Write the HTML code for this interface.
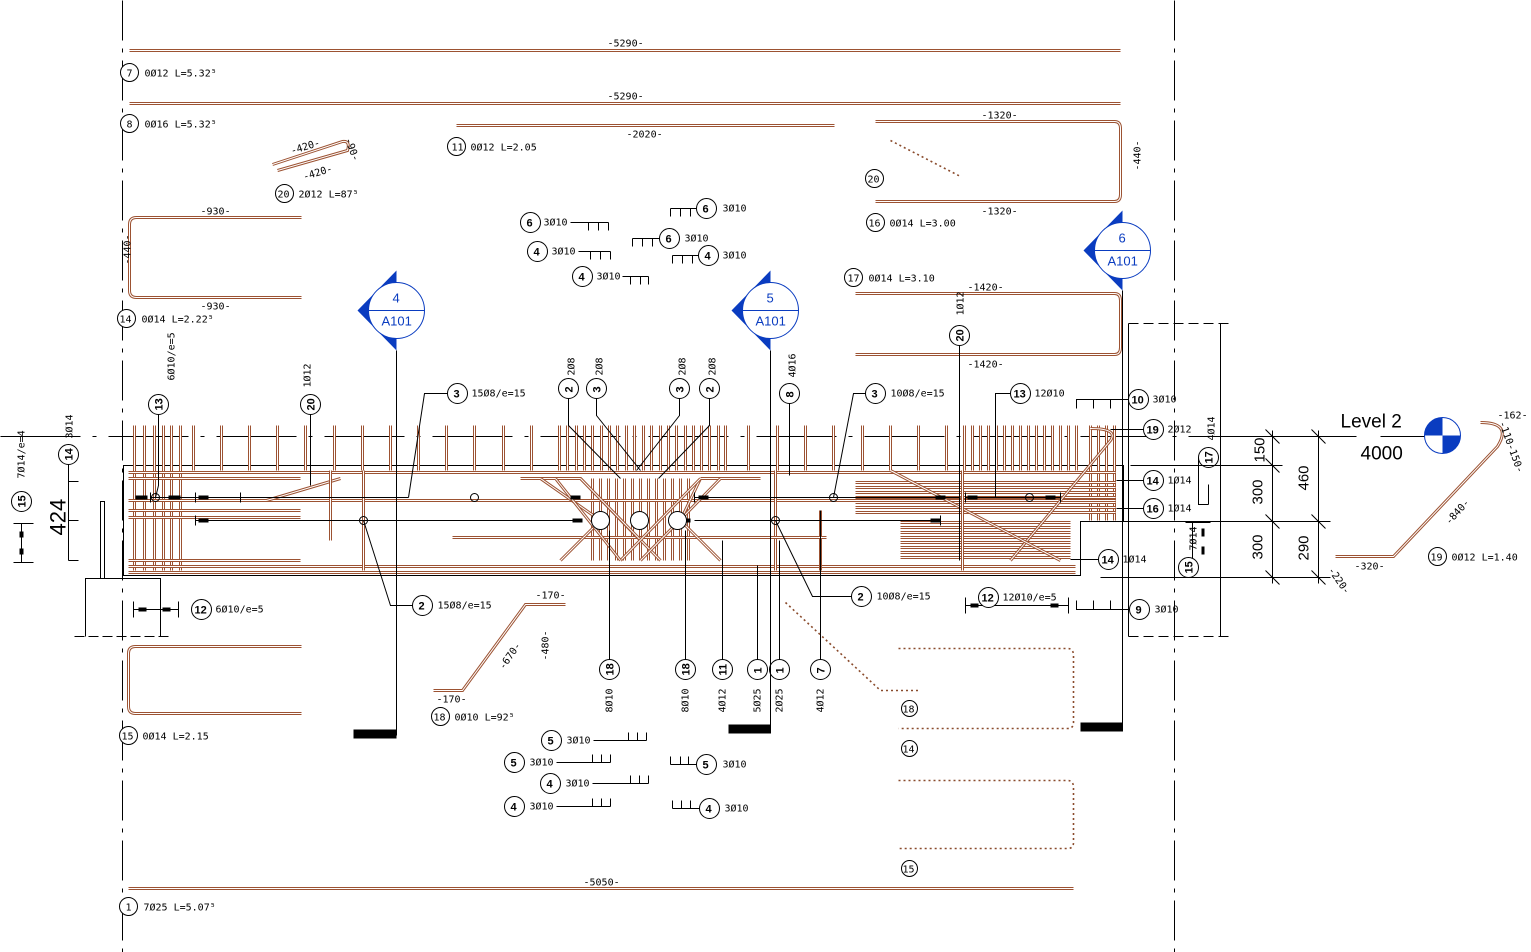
<!DOCTYPE html>
<html><head><meta charset="utf-8">
<style>
html,body{margin:0;padding:0;background:#fff;}
svg{display:block;}
text{font-family:"DejaVu Sans Mono","Liberation Mono",monospace;font-size:10px;fill:#000;}
.lb{font-family:"Liberation Sans",sans-serif;}
.b{fill:none;stroke:#9c5232;stroke-width:3;}
.bi{fill:none;stroke:#fff;stroke-width:1;}
.d{fill:none;stroke:#8a4b2c;stroke-width:1.6;stroke-dasharray:2 3;}
.k{fill:none;stroke:#000;stroke-width:1;}
.c{fill:#fff;stroke:#000;stroke-width:1;}
.bl{fill:#0a3cc0;}
.cb{font-family:"Liberation Sans",sans-serif;font-weight:bold;font-size:11px;}
</style></head>
<body>
<svg id="s" width="1531" height="952" viewBox="0 0 1531 952" xmlns="http://www.w3.org/2000/svg">
<g transform="translate(0.5 0.5)">
<line x1="122" y1="0" x2="122" y2="952" stroke="#000" stroke-dasharray="40 8 4 8"/>
<line x1="1174" y1="0" x2="1174" y2="952" stroke="#000" stroke-dasharray="40 8 4 8"/>
<line x1="0" y1="436" x2="1230" y2="436" stroke="#000" stroke-dasharray="80 12 4 12"/>

<path class="b" d="M129 50H1120"/><text x="607" y="46">-5290-</text>
<circle class="c" cx="129" cy="72" r="9"/><text x="126" y="76">7</text><text x="144" y="76">0Ø12 L=5.32⁵</text>
<path class="b" d="M129 103H1120"/><text x="607" y="99">-5290-</text>
<circle class="c" cx="129" cy="123" r="9"/><text x="126" y="127">8</text><text x="144" y="127">0Ø16 L=5.32⁵</text>
<path class="b" d="M456 125H834"/><text x="626" y="137">-2020-</text>
<circle class="c" cx="456" cy="146" r="9"/><text x="451" y="150">11</text><text x="470" y="150">0Ø12 L=2.05</text>
<path class="b" d="M272 164L342 141Q350 140 347 150L277 170"/>
<text x="290" y="151" transform="rotate(-17 300 148)">-420-</text>
<text x="302" y="176" transform="rotate(-17 315 172)">-420-</text>
<text x="345" y="146" transform="rotate(70 350 142)">-90-</text>
<circle class="c" cx="284" cy="193" r="9"/><text x="277" y="197">20</text><text x="298" y="197">2Ø12 L=87⁵</text>
<path class="b" d="M301 217H136Q129 217 129 224V290Q129 297 136 297H301"/>
<text x="200" y="214">-930-</text><text x="200" y="309">-930-</text>
<text x="112" y="270" transform="rotate(-90 118 258)">-440-</text>
<circle class="c" cx="126" cy="318" r="9"/><text x="119" y="322">14</text><text x="141" y="322">0Ø14 L=2.22⁵</text>

<path class="b" d="M875 121H1114Q1120 121 1120 128V194Q1120 201 1114 201H875"/>
<text x="981" y="118">-1320-</text><text x="981" y="214">-1320-</text>
<text x="1122" y="172" transform="rotate(-90 1130 162)">-440-</text>
<path class="d" d="M890 140L960 176"/>
<circle class="c" cx="874" cy="178" r="9"/><text x="867" y="182">20</text>
<circle class="c" cx="875" cy="222" r="9"/><text x="868" y="226">16</text><text x="889" y="226">0Ø14 L=3.00</text>
<path class="b" d="M855 293H1114Q1120 293 1120 300V347Q1120 354 1114 354H855"/>
<text x="967" y="290">-1420-</text><text x="967" y="367">-1420-</text>
<circle class="c" cx="853" cy="277" r="9"/><text x="847" y="281">17</text><text x="868" y="281">0Ø14 L=3.10</text>

<g>
<circle class="c" cx="530" cy="222" r="10"/><text class="cb" x="526" y="226">6</text><text x="543" y="225">3Ø10</text><path class="k" d="M570 222H608M588 222V230M598 222V230M608 222V230"/>
<circle class="c" cx="537" cy="251" r="10"/><text class="cb" x="533" y="255">4</text><text x="551" y="254">3Ø10</text><path class="k" d="M578 251H610M590 251V259M600 251V259M610 251V259"/>
<circle class="c" cx="582" cy="276" r="10"/><text class="cb" x="578" y="280">4</text><text x="596" y="279">3Ø10</text><path class="k" d="M622 276H648M630 276V284M640 276V284M648 276V284"/>
<circle class="c" cx="706" cy="208" r="10"/><text class="cb" x="702" y="212">6</text><text x="722" y="211">3Ø10</text><path class="k" d="M670 208H696M670 208V216M680 208V216M690 208V216"/>
<circle class="c" cx="669" cy="238" r="10"/><text class="cb" x="665" y="242">6</text><text x="684" y="241">3Ø10</text><path class="k" d="M632 238H659M632 238V246M642 238V246M652 238V246"/>
<circle class="c" cx="708" cy="255" r="10"/><text class="cb" x="704" y="259">4</text><text x="722" y="258">3Ø10</text><path class="k" d="M672 255H698M672 255V263M682 255V263M692 255V263"/>

<circle class="c" cx="551" cy="740" r="10"/><text class="cb" x="547" y="744">5</text><text x="566" y="743">3Ø10</text><path class="k" d="M593 740H646M628 740V732M637 740V732M646 740V732"/>
<circle class="c" cx="514" cy="762" r="10"/><text class="cb" x="510" y="766">5</text><text x="529" y="765">3Ø10</text><path class="k" d="M556 762H610M592 762V754M601 762V754M610 762V754"/>
<circle class="c" cx="550" cy="783" r="10"/><text class="cb" x="546" y="787">4</text><text x="565" y="786">3Ø10</text><path class="k" d="M592 783H648M630 783V775M639 783V775M648 783V775"/>
<circle class="c" cx="514" cy="806" r="10"/><text class="cb" x="510" y="810">4</text><text x="529" y="809">3Ø10</text><path class="k" d="M556 806H610M592 806V798M601 806V798M610 806V798"/>
<circle class="c" cx="706" cy="764" r="10"/><text class="cb" x="702" y="768">5</text><text x="722" y="767">3Ø10</text><path class="k" d="M670 764H696M670 764V756M680 764V756M688 764V756"/>
<circle class="c" cx="709" cy="808" r="10"/><text class="cb" x="705" y="812">4</text><text x="724" y="811">3Ø10</text><path class="k" d="M672 808H699M672 808V800M681 808V800M690 808V800"/>
</g>

<path class="k" d="M123 465H1123V521H1080V575H123Z"/>
<g id="beam"></g>

<path class="k" d="M150 497H240M150 492V502M240 492V502"/>
<path class="k" d="M195 497H408M195 492V502"/>
<path class="k" d="M195 520H580M195 515V525"/>
<path class="k" d="M694 497H960M694 492V502"/>
<path class="k" d="M694 520H940M940 515V525"/>
<path class="k" d="M965 497H1060M965 492V502M1060 492V502"/>
<rect x="135" y="495" width="12" height="4"/><rect x="168" y="495" width="12" height="4"/><rect x="198" y="495" width="10" height="4"/>
<rect x="198" y="518" width="10" height="4"/><rect x="570" y="495" width="10" height="4"/><rect x="572" y="518" width="10" height="4"/>
<rect x="698" y="495" width="10" height="4"/><rect x="680" y="518" width="10" height="4"/><rect x="935" y="495" width="10" height="4"/><rect x="930" y="518" width="10" height="4"/>
<rect x="967" y="495" width="10" height="4"/><rect x="1045" y="495" width="10" height="4"/>
<circle class="k" cx="155" cy="497" r="4"/><circle class="k" cx="474" cy="497" r="4"/><circle class="k" cx="363" cy="520" r="4"/>
<circle class="k" cx="833" cy="497" r="4"/><circle class="k" cx="775" cy="520" r="4"/><circle class="k" cx="1029" cy="497" r="4"/>
<circle class="c" cx="600" cy="520" r="9"/><circle class="c" cx="639" cy="520" r="9"/><circle class="c" cx="677" cy="520" r="9"/>

<path class="k" d="M158 414V485L155 497"/>
<circle class="c" cx="158" cy="404" r="10"/><text class="cb" x="152" y="408" transform="rotate(-90 158 404)">13</text><text x="150" y="388" transform="rotate(-90 158 372)">6Ø10/e=5</text>
<path class="k" d="M310 414V485"/>
<circle class="c" cx="310" cy="404" r="10"/><text class="cb" x="304" y="408" transform="rotate(-90 310 404)">20</text><text x="301" y="378" transform="rotate(-90 310 378)">1Ø12</text>
<path class="k" d="M447 393H424L408 497"/>
<circle class="c" cx="457" cy="393" r="10"/><text class="cb" x="453" y="397">3</text><text x="471" y="396">15Ø8/e=15</text>
<path class="k" d="M363 520L390 605H412"/>
<circle class="c" cx="422" cy="605" r="10"/><text class="cb" x="418" y="609">2</text><text x="437" y="608">15Ø8/e=15</text>
<path class="k" d="M568 398V425L620 478M596 398V415L640 470M679 398V415L636 470M709 398V425L658 478"/>
<circle class="c" cx="568" cy="388" r="10"/><circle class="c" cx="596" cy="388" r="10"/><circle class="c" cx="679" cy="388" r="10"/><circle class="c" cx="709" cy="388" r="10"/>
<text class="cb" x="564" y="392" transform="rotate(-90 568 388)">2</text><text class="cb" x="592" y="392" transform="rotate(-90 596 388)">3</text>
<text class="cb" x="675" y="392" transform="rotate(-90 679 388)">3</text><text class="cb" x="705" y="392" transform="rotate(-90 709 388)">2</text>
<text x="555" y="368" transform="rotate(-90 568 362)">2Ø8</text><text x="583" y="368" transform="rotate(-90 596 362)">2Ø8</text>
<text x="666" y="368" transform="rotate(-90 679 362)">2Ø8</text><text x="696" y="368" transform="rotate(-90 709 362)">2Ø8</text>
<path class="k" d="M789 403V475"/>
<circle class="c" cx="789" cy="393" r="10"/><text class="cb" x="785" y="397" transform="rotate(-90 789 393)">8</text><text x="776" y="370" transform="rotate(-90 789 364)">4Ø16</text>
<path class="k" d="M865 393H853L833 497"/>
<circle class="c" cx="875" cy="393" r="10"/><text class="cb" x="871" y="397">3</text><text x="890" y="396">10Ø8/e=15</text>
<path class="k" d="M775 520L812 596H851"/>
<circle class="c" cx="861" cy="596" r="10"/><text class="cb" x="857" y="600">2</text><text x="876" y="599">10Ø8/e=15</text>
<path class="k" d="M959 345V560"/>
<circle class="c" cx="959" cy="335" r="10"/><text class="cb" x="953" y="339" transform="rotate(-90 959 335)">20</text><text x="950" y="310" transform="rotate(-90 959 306)">1Ø12</text>
<path class="k" d="M1010 393H995V497"/>
<circle class="c" cx="1020" cy="393" r="10"/><text class="cb" x="1013" y="397">13</text><text x="1034" y="396">12Ø10</text>
<path class="k" d="M1128 399H1076V408M1093 399V408M1110 399V408"/>
<circle class="c" cx="1138" cy="399" r="10"/><text class="cb" x="1131" y="403">10</text><text x="1152" y="402">3Ø10</text>
<path class="k" d="M1143 429H1110"/>
<circle class="c" cx="1153" cy="429" r="10"/><text class="cb" x="1146" y="433">19</text><text x="1167" y="432">2Ø12</text>
<path class="k" d="M1198 457V504H1208M1198 484V492M1198 504V492M1208 484V504"/>
<circle class="c" cx="1208" cy="457" r="10"/><text class="cb" x="1202" y="461" transform="rotate(-90 1208 457)">17</text><text x="1200" y="438" transform="rotate(-90 1208 432)">4Ø14</text>
<path class="k" d="M1143 480H1116"/>
<circle class="c" cx="1153" cy="480" r="10"/><text class="cb" x="1146" y="484">14</text><text x="1167" y="483">1Ø14</text>
<path class="k" d="M1143 508H1116"/>
<circle class="c" cx="1153" cy="508" r="10"/><text class="cb" x="1146" y="512">16</text><text x="1167" y="511">1Ø14</text>
<path class="k" d="M1098 559H1070"/>
<circle class="c" cx="1108" cy="559" r="10"/><text class="cb" x="1101" y="563">14</text><text x="1122" y="562">1Ø14</text>
<path class="k" d="M1192 522V562M1185 522H1210"/><rect x="1201" y="528" width="3" height="8"/><rect x="1201" y="546" width="3" height="8"/>
<circle class="c" cx="1188" cy="567" r="10"/><text class="cb" x="1182" y="571" transform="rotate(-90 1188 567)">15</text><text x="1180" y="550" transform="rotate(-90 1188 542)">7Ø14</text>
<path class="k" d="M1129 609H1076V600M1093 609V600M1110 609V600"/>
<circle class="c" cx="1139" cy="609" r="10"/><text class="cb" x="1135" y="613">9</text><text x="1154" y="612">3Ø10</text>
<path class="k" d="M965 605H1068M965 597V613M1068 597V613"/><rect x="970" y="603" width="8" height="4"/><rect x="1050" y="603" width="8" height="4"/>
<circle class="c" cx="988" cy="597" r="10"/><text class="cb" x="981" y="601">12</text><text x="1002" y="600">12Ø10/e=5</text>
<path class="k" d="M133 609H178M133 601V617M178 601V617"/><rect x="138" y="607" width="8" height="4"/><rect x="162" y="607" width="8" height="4"/>
<circle class="c" cx="201" cy="609" r="10"/><text class="cb" x="194" y="613">12</text><text x="215" y="612">6Ø10/e=5</text>

<path class="k" d="M609 530V659M685 530V659M722 540V659M757 565V659M779 540V659M820 510V659"/>
<circle class="c" cx="609" cy="669" r="10"/><circle class="c" cx="685" cy="669" r="10"/><circle class="c" cx="722" cy="669" r="10"/><circle class="c" cx="757" cy="669" r="10"/><circle class="c" cx="779" cy="669" r="10"/><circle class="c" cx="820" cy="669" r="10"/>
<text class="cb" x="603" y="673" transform="rotate(-90 609 669)">18</text><text class="cb" x="679" y="673" transform="rotate(-90 685 669)">18</text>
<text class="cb" x="716" y="673" transform="rotate(-90 722 669)">11</text><text class="cb" x="753" y="673" transform="rotate(-90 757 669)">1</text>
<text class="cb" x="775" y="673" transform="rotate(-90 779 669)">1</text><text class="cb" x="816" y="673" transform="rotate(-90 820 669)">7</text>
<text x="594" y="700" transform="rotate(-90 609 697)">8Ø10</text><text x="670" y="700" transform="rotate(-90 685 697)">8Ø10</text>
<text x="707" y="700" transform="rotate(-90 722 697)">4Ø12</text><text x="742" y="700" transform="rotate(-90 757 697)">5Ø25</text>
<text x="764" y="700" transform="rotate(-90 779 697)">2Ø25</text><text x="805" y="700" transform="rotate(-90 820 697)">4Ø12</text>

<path class="k" d="M13 523H33M13 562H33M21 523V562"/><rect x="19" y="531" width="4" height="6"/><rect x="19" y="548" width="4" height="6"/>
<circle class="c" cx="21" cy="501" r="10"/><text class="cb" x="15" y="505" transform="rotate(-90 21 501)">15</text>
<text x="-5" y="455" transform="rotate(-90 21 452)">7Ø14/e=4</text>
<path class="k" d="M68 464V560M68 481H78M68 520H78M68 560H78"/>
<circle class="c" cx="68" cy="454" r="10"/><text class="cb" x="62" y="458" transform="rotate(-90 68 454)">14</text><text x="58" y="432" transform="rotate(-90 68 428)">3Ø14</text>
<text class="lb" x="40" y="526" style="font-size:22px" transform="rotate(-90 57 518)">424</text>
<rect x="100" y="501" width="4" height="77" fill="#fff" stroke="#000"/>
<path class="k" d="M85 636V578H160V636"/>
<path class="k" d="M74 636H170" stroke-dasharray="10 4"/>

<path class="b" d="M433 690H462L525 604H565"/>
<text x="535" y="598">-170-</text><text x="436" y="702">-170-</text>
<text x="488" y="660" transform="rotate(-55 505 650)">-670-</text>
<text x="530" y="648" transform="rotate(-90 545 645)">-480-</text>
<circle class="c" cx="440" cy="716" r="9"/><text x="433" y="720">18</text><text x="454" y="720">0Ø10 L=92⁵</text>
<path class="b" d="M301 646H135Q128 646 128 653V706Q128 713 135 713H301"/>
<circle class="c" cx="128" cy="735" r="9"/><text x="121" y="739">15</text><text x="142" y="739">0Ø14 L=2.15</text>
<path class="b" d="M128 888H1073"/><text x="583" y="885">-5050-</text>
<circle class="c" cx="128" cy="906" r="9"/><text x="125" y="910">1</text><text x="143" y="910">7Ø25 L=5.07⁵</text>

<path class="d" d="M785 602L880 690H918"/>
<path class="d" d="M898 648H1067Q1073 648 1073 655V722Q1073 728 1067 728H898"/>
<circle class="c" cx="909" cy="708" r="8"/><text x="902" y="712">18</text>
<circle class="c" cx="909" cy="748" r="8"/><text x="902" y="752">14</text>
<path class="d" d="M898 780H1067Q1073 780 1073 787V842Q1073 848 1067 848H898"/>
<circle class="c" cx="909" cy="868" r="8"/><text x="902" y="872">15</text>

<g>
<path class="k" d="M396 350V735"/><rect x="353" y="729" width="43" height="9"/>
<path class="bl" d="M396 270L357 310L396 350Z"/><circle cx="396" cy="310" r="28" fill="#fff" stroke="#0a3cc0"/>
<path d="M368 310H424" stroke="#0a3cc0"/>
<text class="lb" x="392" y="302" style="fill:#0a3cc0;font-size:13px">4</text><text class="lb" x="381" y="325" style="fill:#0a3cc0;font-size:13px">A101</text>
</g>
<g>
<path class="k" d="M770 350V733"/><rect x="728" y="724" width="42" height="9"/>
<path class="bl" d="M770 270L731 310L770 350Z"/><circle cx="770" cy="310" r="28" fill="#fff" stroke="#0a3cc0"/>
<path d="M742 310H798" stroke="#0a3cc0"/>
<text class="lb" x="766" y="302" style="fill:#0a3cc0;font-size:13px">5</text><text class="lb" x="755" y="325" style="fill:#0a3cc0;font-size:13px">A101</text>
</g>
<g>
<path class="k" d="M1122 290V731"/><rect x="1080" y="722" width="42" height="9"/>
<path class="bl" d="M1122 210L1083 250L1122 290Z"/><circle cx="1122" cy="250" r="28" fill="#fff" stroke="#0a3cc0"/>
<path d="M1094 250H1150" stroke="#0a3cc0"/>
<text class="lb" x="1118" y="242" style="fill:#0a3cc0;font-size:13px">6</text><text class="lb" x="1107" y="265" style="fill:#0a3cc0;font-size:13px">A101</text>
</g>

<path class="k" d="M1128 323H1232" stroke-dasharray="10 5"/><path class="k" d="M1128 636H1232" stroke-dasharray="10 5"/>
<path class="k" d="M1220 323V636M1128 323V636"/>
<path class="k" d="M1080 521H1330M1100 577H1330M1130 465H1282M1230 436H1356"/>
<path class="k" d="M1272 430V583M1318 430V583"/>
<path class="k" d="M1265 429L1279 443M1265 458L1279 472M1265 514L1279 528M1265 570L1279 584M1311 429L1325 443M1311 514L1325 528M1311 570L1325 584"/>
<text class="lb" x="1244" y="458" style="font-size:15px" transform="rotate(-90 1256 450)">150</text>
<text class="lb" x="1244" y="498" style="font-size:15px" transform="rotate(-90 1256 492)">300</text>
<text class="lb" x="1244" y="553" style="font-size:15px" transform="rotate(-90 1256 547)">300</text>
<text class="lb" x="1290" y="484" style="font-size:15px" transform="rotate(-90 1302 478)">460</text>
<text class="lb" x="1290" y="554" style="font-size:15px" transform="rotate(-90 1302 548)">290</text>
<text class="lb" x="1340" y="427" style="font-size:19px">Level 2</text>
<text class="lb" x="1360" y="459" style="font-size:19px">4000</text>
<path class="k" d="M1380 436H1425"/>
<circle cx="1442" cy="435" r="18" fill="#fff" stroke="#0a3cc0"/>
<path class="bl" d="M1442 435H1424A18 18 0 0 1 1442 417Z"/><path class="bl" d="M1442 435H1460A18 18 0 0 1 1442 453Z"/>
<path class="b" d="M1335 556H1393L1497 446Q1512 422 1480 422"/>
<text x="1354" y="569">-320-</text>
<text x="1440" y="520" transform="rotate(-48 1450 512)">-840-</text>
<text x="1497" y="418">-162-</text>
<text x="1500" y="440" transform="rotate(70 1512 430)">-110-150-</text>
<text x="1325" y="582" transform="rotate(55 1338 578)">-220-</text>
<circle class="c" cx="1437" cy="556" r="9"/><text x="1430" y="560">19</text><text x="1451" y="560">0Ø12 L=1.40</text>
</g>
</svg>
<script>
(function(){
var NS="http://www.w3.org/2000/svg",g=document.getElementById("beam");
function P(d,c){var p=document.createElementNS(NS,"path");p.setAttribute("d",d);p.setAttribute("class",c||"b");g.appendChild(p);return p;}
var xs=[134,144,154,163,171,180,193,221,249,277,305,334,362,390,418,446,474,503,531,559,567,576,584,592,601,609,617,626,634,643,651,660,668,676,685,693,701,709,718,725,748,777,805,833,862,890,918,946,964,972,980,988,996,1004,1012,1020,1028,1036,1044,1052,1060,1068,1076,1090];
xs.forEach(function(x){P("M"+x+" 425V470");});
[134,144,154,163,171,180].forEach(function(x){P("M"+x+" 470V570");});
for(var x=592;x<=688;x+=8)P("M"+x+" 478V560");
[1090,1098,1106,1114].forEach(function(x){P("M"+x+" 425V520");});
P("M128 472H1115");P("M128 478H300");P("M128 500H1115");P("M128 510H300");P("M128 517H300");
P("M128 560H300");P("M128 566H1075");P("M128 572H1075");
P("M266 500L340 478");P("M330 470V540");P("M363 470V570");P("M775 470V570");P("M820 510V570");
P("M452 537H826");P("M520 478H580L640 540");P("M700 478H760");
P("M540 478L600 520L560 560");P("M700 478L680 520L720 560");P("M580 478L660 560");P("M700 478L620 560");
P("M555 478L620 560");P("M720 478L640 560");
for(var y=482;y<=514;y+=5)P("M855 "+y+"H1115");
for(var y=522;y<=560;y+=5)P("M900 "+y+"H1070");
P("M1010 560L1110 440Q1118 428 1090 428");
P("M890 470L1060 560");P("M962 470V570");
Array.prototype.slice.call(document.querySelectorAll("path.b")).forEach(function(p){
 var q=p.cloneNode();q.setAttribute("class","bi");p.parentNode.insertBefore(q,p.nextSibling);});
})();
</script>
</body></html>
